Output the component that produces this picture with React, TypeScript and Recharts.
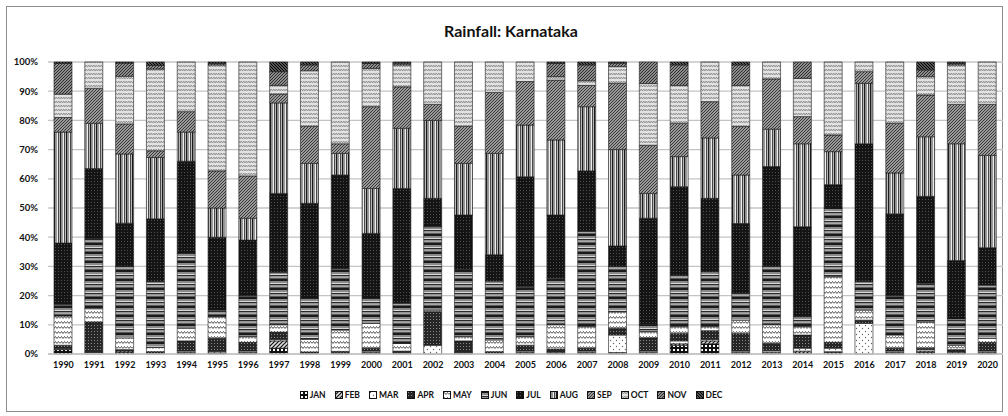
import { BarChart, Bar, XAxis, YAxis, CartesianGrid } from 'recharts';

const years = [
  '1990', '1991', '1992', '1993', '1994', '1995', '1996', '1997', '1998', '1999', '2000',
  '2001', '2002', '2003', '2004', '2005', '2006', '2007', '2008', '2009', '2010',
  '2011', '2012', '2013', '2014', '2015', '2016', '2017', '2018', '2019', '2020',
];

const months = ['JAN', 'FEB', 'MAR', 'APR', 'MAY', 'JUN', 'JUL', 'AUG', 'SEP', 'OCT', 'NOV', 'DEC'];

// share of annual rainfall (%)
const jan = [1.5, 0, 0.5, 0, 0.2, 0.3, 0.2, 2, 0, 0, 0.2, 0, 0, 0, 0, 0.3, 0.2, 0.2, 0.2, 0, 3, 3.5, 0.2, 0.2, 0.3, 0.5, 0, 0.2, 0.5, 0.2, 0.2];
const feb = [0.3, 0, 0.5, 0, 0.3, 0.1, 0.3, 2.5, 0, 0.2, 0.3, 0.2, 0, 0.2, 0, 0.2, 0.2, 0.3, 0.3, 0.5, 0.5, 1, 0.3, 0.4, 0.7, 0.3, 0, 0.3, 0.5, 0.2, 0.3];
const mar = [0.2, 0.5, 0.2, 0.3, 0.5, 0.5, 0.5, 0.5, 0.2, 0.2, 0.5, 0.3, 3, 0.3, 0.3, 0.5, 0.3, 0.5, 6, 0.5, 1, 0.5, 0.5, 0.5, 1, 1.2, 10.5, 0.5, 0.5, 0.3, 0.5];
const apr = [1, 10.5, 0.3, 0.5, 3.5, 4.5, 3, 2.5, 0.5, 0.5, 1, 0.5, 11.5, 4, 0.5, 2, 1, 1, 2.3, 4.5, 2.5, 3, 6, 2.5, 4.5, 2, 1.1, 1, 0.5, 0.8, 3];
const may = [10, 4.5, 4, 1.5, 4.3, 7.4, 2, 2.5, 4.3, 7.3, 8.5, 2.6, 0.5, 1.5, 4, 3, 8.3, 7.4, 5.7, 2.2, 2.4, 1.4, 4.6, 6.4, 2.9, 22.5, 3.4, 4.5, 9, 1.5, 1.4];
const jun = [4, 24, 24.6, 22.5, 25.7, 2.2, 14, 18, 14, 21.1, 8.5, 13.8, 28.6, 23, 20.2, 17, 16, 32.6, 15.5, 2.3, 17.6, 18.8, 9.2, 20, 3.4, 23.5, 9.8, 13.5, 13.2, 9, 18.2];
const jul = [21, 24, 14.7, 21.5, 31.5, 25, 19, 27, 32.6, 32, 22.3, 39.3, 9.7, 18.6, 9, 37.7, 21.6, 20.7, 7, 36.5, 30.3, 25.1, 23.9, 34.2, 30.8, 8, 47.2, 28, 29.8, 20, 12.8];
const aug = [38, 15.5, 23.7, 21, 10, 10, 7.5, 31, 13.7, 7.4, 15.4, 20.6, 26.7, 17.7, 34.7, 17.7, 25.7, 22, 33, 8.5, 10.3, 20.7, 16.6, 12.8, 28.4, 11.3, 20.7, 14, 20.4, 40, 31.6];
const sep = [5, 12, 10.3, 2.3, 7, 12.7, 14.5, 3, 12.7, 3.3, 28, 14.2, 5.5, 12.7, 20.9, 14.9, 20.5, 7.3, 22.7, 16.5, 11.4, 12.4, 16.6, 17.2, 9.3, 5.7, 4, 17, 14.3, 13.5, 17.5];
const oct = [8, 9, 16.3, 28, 17, 36.3, 39, 3, 19, 28, 13.1, 7.5, 14.5, 22, 10.4, 6.7, 1.2, 1.6, 5.7, 21.1, 13, 13.6, 14.1, 5.8, 13.1, 25, 3.3, 21, 6.3, 13.5, 14.5];
const nov = [10.5, 0, 4.5, 1.2, 0, 0.5, 0, 4.7, 2, 0, 1.7, 0.6, 0, 0, 0, 0, 4.5, 5.4, 1.2, 7.4, 7, 0, 7, 0, 5.6, 0, 0, 0, 2.3, 0.5, 0];
const dec = [0.5, 0, 0.4, 1.2, 0, 0.5, 0, 3.3, 1, 0, 0.5, 0.4, 0, 0, 0, 0, 0.5, 1, 0.4, 0, 1, 0, 1, 0, 0, 0, 0, 0, 2.7, 0.5, 0];

const yTicks = [0, 0.1, 0.2, 0.3, 0.4, 0.5, 0.6, 0.7, 0.8, 0.9, 1];

const monthValues = [jan, feb, mar, apr, may, jun, jul, aug, sep, oct, nov, dec];

const data = years.map((year, i) => {
  const row: Record<string, string | number> = { year };
  months.forEach((m, k) => {
    row[m] = monthValues[k][i];
  });
  return row;
});

const FONT = 'Lato, "Open Sans", sans-serif';

const Patterns = () => (
  <svg width={0} height={0} style={{ position: 'absolute' }}>
    <defs>
      <pattern id="pat-JAN" width="4" height="4" patternUnits="userSpaceOnUse">
        <rect width="4" height="4" fill="#111" />
        <rect x="1" y="1" width="2" height="2" fill="#fff" />
      </pattern>
      <pattern id="pat-FEB" width="4" height="4" patternUnits="userSpaceOnUse">
        <rect width="4" height="4" fill="#ddd" />
        <path d="M0,4 L4,0 M-1,1 L1,-1 M3,5 L5,3" stroke="#111" strokeWidth="1.2" />
      </pattern>
      <pattern id="pat-MAR" width="6" height="6" patternUnits="userSpaceOnUse">
        <rect width="6" height="6" fill="#fff" />
        <circle cx="1.5" cy="1.5" r="0.7" fill="#666" />
        <circle cx="4.5" cy="4.5" r="0.7" fill="#666" />
      </pattern>
      <pattern id="pat-APR" width="3" height="3" patternUnits="userSpaceOnUse">
        <rect width="3" height="3" fill="#262626" />
        <rect x="1" y="1" width="1" height="1" fill="#8a8a8a" />
      </pattern>
      <pattern id="pat-MAY" width="6" height="5" patternUnits="userSpaceOnUse">
        <rect width="6" height="5" fill="#fff" />
        <path d="M0,3.5 L1.5,1.5 L3,3.5 L4.5,1.5 L6,3.5" fill="none" stroke="#444" strokeWidth="0.9" />
      </pattern>
      <pattern id="pat-JUN" width="6" height="9" patternUnits="userSpaceOnUse">
        <rect width="6" height="9" fill="#d8d8d8" />
        <rect y="0" width="6" height="2" fill="#1a1a1a" />
        <rect y="2" width="6" height="2" fill="#8a8a8a" />
        <rect y="5" width="6" height="1.5" fill="#2a2a2a" />
        <rect y="6.5" width="6" height="1.5" fill="#a8a8a8" />
        <rect y="8" width="6" height="1" fill="#5a5a5a" />
      </pattern>
      <pattern id="pat-JUL" width="3" height="3" patternUnits="userSpaceOnUse">
        <rect width="3" height="3" fill="#141414" />
        <rect x="1" y="1" width="1" height="1" fill="#505050" />
      </pattern>
      <pattern id="pat-AUG" width="6" height="6" patternUnits="userSpaceOnUse">
        <rect width="6" height="6" fill="#eee" />
        <rect x="0" width="1.5" height="6" fill="#1a1a1a" />
        <rect x="1.5" width="1.5" height="6" fill="#999" />
        <rect x="4" width="1" height="6" fill="#484848" />
        <rect x="5" width="1" height="6" fill="#b8b8b8" />
      </pattern>
      <pattern id="pat-SEP" width="3" height="3" patternUnits="userSpaceOnUse">
        <rect width="3" height="3" fill="#9a9a9a" />
        <path d="M0,3 L3,0 M-1,1 L1,-1 M2,4 L4,2" stroke="#383838" strokeWidth="1" />
      </pattern>
      <pattern id="pat-OCT" width="5" height="4" patternUnits="userSpaceOnUse">
        <rect width="5" height="4" fill="#e2e2e2" />
        <path d="M0,3 L1.25,1 L2.5,3 L3.75,1 L5,3" fill="none" stroke="#8a8a8a" strokeWidth="0.9" />
      </pattern>
      <pattern id="pat-NOV" width="3" height="3" patternUnits="userSpaceOnUse">
        <rect width="3" height="3" fill="#8c8c8c" />
        <path d="M0,3 L3,0 M-1,1 L1,-1 M2,4 L4,2" stroke="#2e2e2e" strokeWidth="1" />
      </pattern>
      <pattern id="pat-DEC" width="3" height="3" patternUnits="userSpaceOnUse">
        <rect width="3" height="3" fill="#555" />
        <path d="M0,0 L3,3 M-1,2 L1,4 M2,-1 L4,1" stroke="#000" strokeWidth="1" />
      </pattern>
    </defs>
  </svg>
);

export default function App() {
  return (
    <div
      style={{
        position: 'absolute',
        left: 0,
        top: 0,
        width: 1008,
        height: 416,
        background: '#fff',
        fontFamily: FONT,
      }}
    >
      <Patterns />
      <div
        style={{
          position: 'absolute',
          left: 6,
          top: 6,
          width: 995,
          height: 404,
          border: '1.5px solid #8c8c8c',
        }}
      />
      <div
        style={{
          position: 'absolute',
          top: 21,
          left: 0,
          width: 1022,
          textAlign: 'center',
          fontSize: 16,
          fontWeight: 700,
          color: '#111',
        }}
      >
        Rainfall: Karnataka
      </div>
      <div style={{ position: 'absolute', left: 0, top: 0 }}>
        <BarChart
          width={1008}
          height={416}
          data={data}
          stackOffset="expand"
          barSize={18}
          margin={{ top: 62, right: 5, bottom: 32, left: 8 }}
        >
          <CartesianGrid vertical={false} stroke="#c4c4c4" strokeWidth={1.3} />
          <XAxis
            dataKey="year"
            interval={0}
            height={30}
            axisLine={{ stroke: '#c4c4c4', strokeWidth: 1.3 }}
            tickLine={false}
            tick={{ fontSize: 9, fontWeight: 700, fill: '#111', fontFamily: FONT }}
          />
          <YAxis
            width={40}
            domain={[0, 1]}
            ticks={yTicks}
            tickFormatter={(v: number) => `${Math.round(v * 100)}%`}
            axisLine={false}
            tickLine={false}
            tickMargin={4}
            tick={{ fontSize: 9.5, fontWeight: 700, fill: '#111', fontFamily: FONT }}
          />
          {months.map((m) => (
            <Bar
              key={m}
              dataKey={m}
              stackId="rain"
              fill={`url(#pat-${m})`}
              stroke="#1a1a1a"
              strokeWidth={0.6}
              isAnimationActive={false}
            />
          ))}
        </BarChart>
      </div>
      <div
        style={{
          position: 'absolute',
          top: 390,
          left: 0,
          width: 1022,
          display: 'flex',
          justifyContent: 'center',
          gap: 9,
          fontSize: 8.5,
          fontWeight: 700,
          color: '#111',
        }}
      >
        {months.map((m) => (
          <span key={m} style={{ display: 'flex', alignItems: 'center', gap: 2 }}>
            <svg width={8} height={8}>
              <rect x={0.5} y={0.5} width={7} height={7} fill={`url(#pat-${m})`} stroke="#111" strokeWidth={1} />
            </svg>
            {m}
          </span>
        ))}
      </div>
    </div>
  );
}
